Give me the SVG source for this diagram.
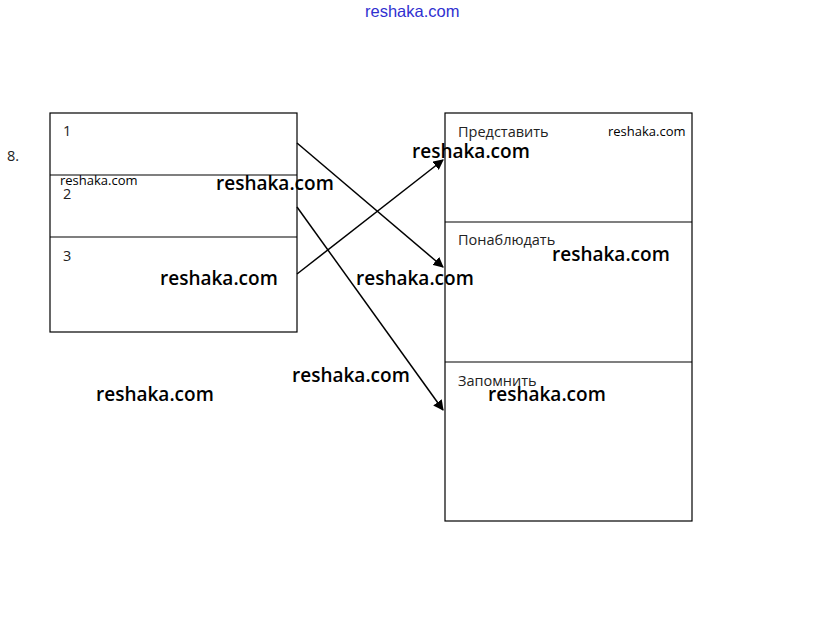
<svg xmlns="http://www.w3.org/2000/svg" width="823" height="626" viewBox="0 0 823 626">
<style>
.box{fill:#fff;stroke:#000;stroke-width:1.2}
.sep{stroke:#000;stroke-width:1.2}
.lbl{font-family:"Open Sans","DejaVu Sans",sans-serif;font-size:14.5px;fill:#222}
.wm{font-family:"Open Sans","Liberation Sans",sans-serif;font-weight:600;font-size:19px;fill:#000}
.wms{font-family:"Open Sans","Liberation Sans",sans-serif;font-size:13px;fill:#000}
.conn{stroke:#000;stroke-width:1.5;fill:none;marker-end:url(#ah)}
</style>
<defs>
<marker id="ah" viewBox="0 0 10 10" refX="9" refY="5" markerWidth="7" markerHeight="7" orient="auto" markerUnits="strokeWidth">
<path d="M0,0 L10,5 L0,10 z" fill="#000"/>
</marker>
</defs>
<rect width="823" height="626" fill="#fff"/>
<text x="365" y="17" font-family="Liberation Sans, sans-serif" font-size="16.5" fill="#3030d0">reshaka.com</text>
<text x="7" y="161" class="lbl">8.</text>
<g id="left">
<rect class="box" x="50" y="113" width="247" height="219"/>
<line class="sep" x1="50" y1="175" x2="297" y2="175"/>
<line class="sep" x1="50" y1="237" x2="297" y2="237"/>
<text x="63" y="136" class="lbl">1</text>
<text x="63" y="199" class="lbl">2</text>
<text x="63" y="261" class="lbl">3</text>
</g>
<g id="right">
<rect class="box" x="445" y="113" width="247" height="408"/>
<line class="sep" x1="445" y1="222" x2="692" y2="222"/>
<line class="sep" x1="445" y1="362" x2="692" y2="362"/>
<text x="458" y="137" class="lbl">Представить</text>
<text x="458" y="245" class="lbl">Понаблюдать</text>
<text x="458" y="386" class="lbl">Запомнить</text>
</g>
<g id="connectors">
<line class="conn" x1="297" y1="143" x2="443" y2="267"/>
<line class="conn" x1="297" y1="207" x2="443" y2="410"/>
<line class="conn" x1="297" y1="274" x2="443" y2="160"/>
</g>
<g id="watermarks">
<text x="412" y="158" class="wm">reshaka.com</text>
<text x="216" y="190" class="wm">reshaka.com</text>
<text x="160" y="285" class="wm">reshaka.com</text>
<text x="356" y="285" class="wm">reshaka.com</text>
<text x="552" y="261" class="wm">reshaka.com</text>
<text x="292" y="382" class="wm">reshaka.com</text>
<text x="96" y="401" class="wm">reshaka.com</text>
<text x="488" y="401" class="wm">reshaka.com</text>
<text x="60" y="185" class="wms">reshaka.com</text>
<text x="608" y="136" class="wms">reshaka.com</text>
</g>
</svg>
